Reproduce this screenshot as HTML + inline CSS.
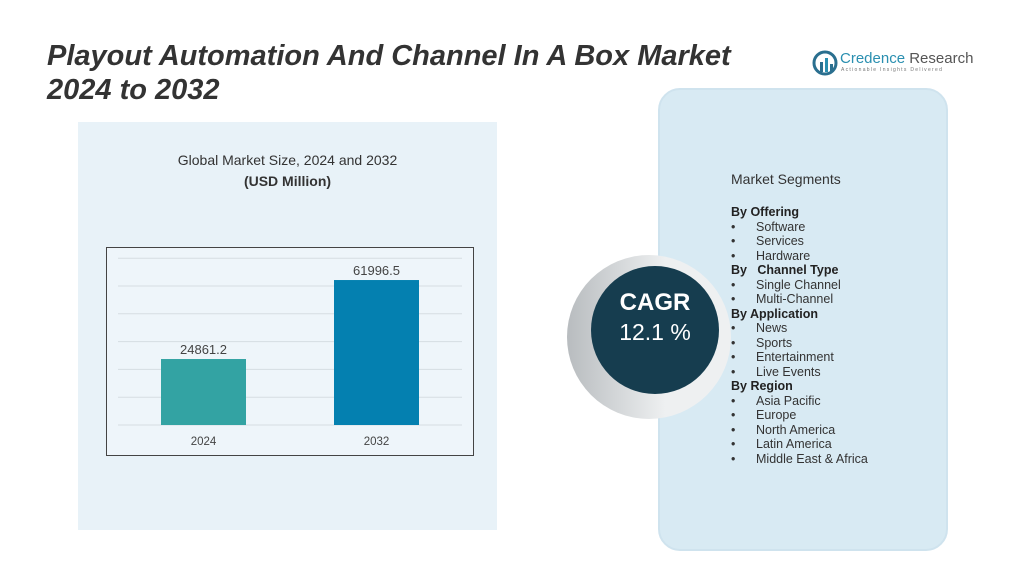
<!DOCTYPE html>
<html><head><meta charset="utf-8"><style>
body{margin:0;width:1033px;height:575px;background:#fff;position:relative;overflow:hidden;font-family:"Liberation Sans",sans-serif;}
.abs{position:absolute;}
.seg{font-size:12.5px;color:#333;line-height:14.5px;}
.seg b{color:#222;}
.seg .it{padding-left:25px;position:relative;}
.seg .it:before{content:"•";position:absolute;left:0;}
</style></head><body>
<div class="abs" style="left:78px;top:122px;width:419px;height:408px;background:#e8f2f8;"></div>
<div class="abs" style="left:658px;top:88px;width:286px;height:459px;background:#d8eaf3;border-radius:22px;border:2px solid #cfe3ee;"></div>
<div class="abs" style="left:47px;top:39px;font-size:29px;font-weight:bold;font-style:italic;color:#333;line-height:34px;white-space:nowrap;">Playout Automation And Channel In A Box Market<br>2024 to 2032</div>
<div class="abs" style="left:812px;top:50px;">
<svg width="26" height="26" style="position:absolute;left:0;top:0"><circle cx="13" cy="13" r="11" fill="none" stroke="#2a6f8f" stroke-width="3"/><rect x="8" y="12" width="3" height="10" fill="#2a6f8f"/><rect x="13" y="8" width="3" height="14" fill="#2a8fb0"/><rect x="18" y="14" width="3" height="8" fill="#2a6f8f"/></svg>
<div style="position:absolute;left:28px;top:0;font-size:15px;white-space:nowrap;"><span style="color:#2a8fb0">Credence</span> <span style="color:#555">Research</span></div>
<div style="position:absolute;left:29px;top:17px;font-size:5px;letter-spacing:1.3px;color:#777;white-space:nowrap;">Actionable Insights Delivered</div></div>
<div class="abs" style="left:150px;top:150px;width:275px;text-align:center;font-size:14px;color:#333;line-height:21px;">Global Market Size, 2024 and 2032<br><b>(USD Million)</b></div>
<svg class="abs" id="chart" style="left:0;top:0" width="1033" height="575"></svg>
<div class="abs" style="left:567px;top:255px;width:164px;height:164px;border-radius:50%;background:linear-gradient(90deg,#b8bcbf,#eef0f1 60%);"></div>
<div class="abs" style="left:591px;top:266px;width:128px;height:128px;border-radius:50%;background:#163d4f;color:#fff;text-align:center;">
<div style="margin-top:23px;font-size:24px;font-weight:bold;">CAGR</div><div style="font-size:23px;margin-top:2px;">12.1 %</div></div>
<div class="abs" style="left:731px;top:171px;font-size:14px;color:#333;">Market Segments</div>
<div class="abs seg" style="left:731px;top:205px;">
<b>By Offering</b><div class="it">Software</div><div class="it">Services</div><div class="it">Hardware</div>
<b>By &nbsp; Channel Type</b><div class="it">Single Channel</div><div class="it">Multi-Channel</div>
<b>By Application</b><div class="it">News</div><div class="it">Sports</div><div class="it">Entertainment</div><div class="it">Live Events</div>
<b>By Region</b><div class="it">Asia Pacific</div><div class="it">Europe</div><div class="it">North America</div><div class="it">Latin America</div><div class="it">Middle East &amp; Africa</div></div>
<script>
const categories=["2024","2032"];
const values=[24861.2,61996.5];
const valueLabels=["24861.2","61996.5"];
const barColors=["#33a3a3","#0480b0"];
const svg=document.getElementById('chart');const NS="http://www.w3.org/2000/svg";
const base=425,yMin=-6160,k=0.002127;
const y=v=>base-(v-yMin)*k;
const x=i=>161+i*173;
function mk(t,a){const e=document.createElementNS(NS,t);for(const p in a)e.setAttribute(p,a[p]);svg.appendChild(e);return e;}
const frame=mk('rect',{x:106.5,y:247.5,width:367,height:208,fill:'#eef5fa',stroke:'#444','stroke-width':1});


for(let g=0;g<7;g++){const gy=425-g*27.8;const l=mk('line',{x1:118,x2:462,y1:gy,y2:gy,stroke:'#d5dde2','stroke-width':1});

}
categories.forEach((c,i)=>{
const r=mk('rect',{x:x(i),y:y(values[i]),width:85,height:base-y(values[i]),fill:barColors[i]});


const t=mk('text',{x:x(i)+42.5,y:y(values[i])-5,'text-anchor':'middle','font-size':13,fill:'#444','font-family':'Liberation Sans'});t.textContent=valueLabels[i];


const a=mk('text',{x:x(i)+42.5,y:445,'text-anchor':'middle','font-size':11.5,fill:'#444','font-family':'Liberation Sans'});a.textContent=c;


});
</script>
</body></html>
